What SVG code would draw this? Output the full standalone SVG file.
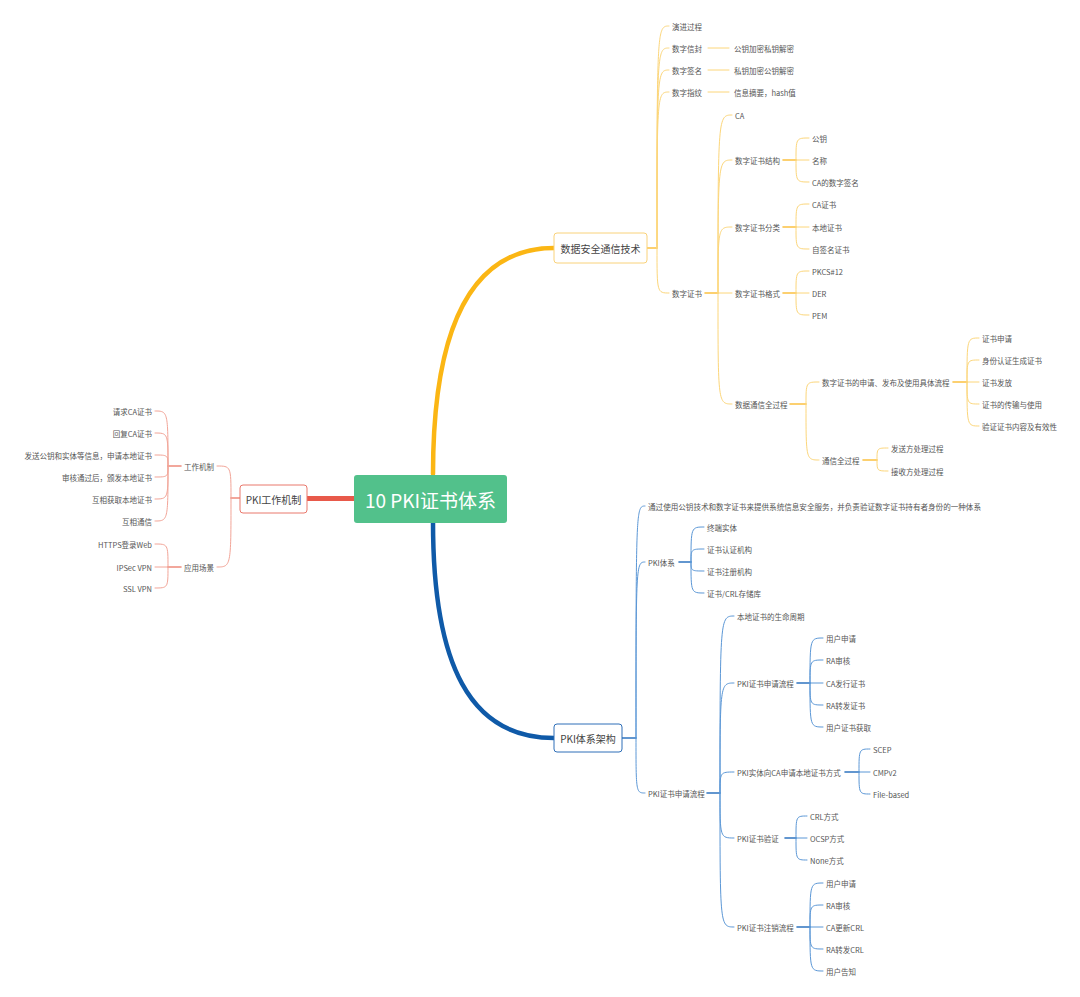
<svg xmlns="http://www.w3.org/2000/svg" width="1080" height="997" viewBox="0 0 1080 997">
<style>
text{font-family:"Noto Sans CJK SC","Noto Sans",sans-serif;fill:#555;dominant-baseline:central}
.s{font-size:7.5px}
.e{text-anchor:end}
.b{font-size:10px;fill:#444}
.c{fill:none;stroke-linecap:round}
.o{stroke:#fcd67a;stroke-width:1}
.os{stroke:#fbc142;stroke-width:1.6}
.u{stroke:#5b97d6;stroke-width:1}
.us{stroke:#2f74c0;stroke-width:1.6}
.r{stroke:#f2a497;stroke-width:1}
.rs{stroke:#ee8a7c;stroke-width:1.6}
</style>
<rect width="1080" height="997" fill="#fff"/>
<g id="connectors" class="c">
<path d="M433,474 C433,330 470,248 554,248" stroke="#fbb614" stroke-width="4.5"/>
<path d="M433,522 C433,665 470,738 554,738" stroke="#0f5aa8" stroke-width="4.5"/>
<path d="M307,498.5 H354" stroke="#e8594a" stroke-width="5"/>
<path class="os" d="M647,248 H657"/>
<path class="o" d="M657,248 C657,26 657,26 669,26 M657,248 C657,48 657,48 669,48 M657,248 C657,70 657,70 669,70 M657,248 C657,92 657,92 669,92 M657,248 C657,293 657,293 669,293"/>
<path class="o" d="M708,48 H729 M708,70 H729 M708,92 H729"/>
<path class="os" d="M705,293 H718"/>
<path class="o" d="M718,293 C718,115 718,115 732,115 M718,293 C718,160 718,160 732,160 M718,293 C718,227 718,227 732,227 M718,293 H732 M718,293 C718,404 718,404 732,404"/>
<path class="os" d="M783,160 H796 M783,227 H796 M783,293 H796"/>
<path class="o" d="M796,160 C796,138 796,138 809,138 M796,160 H809 M796,160 C796,182 796,182 809,182"/>
<path class="o" d="M796,227 C796,204 796,204 809,204 M796,227 H809 M796,227 C796,249 796,249 809,249"/>
<path class="o" d="M796,293 C796,271 796,271 809,271 M796,293 H809 M796,293 C796,315 796,315 809,315"/>
<path class="os" d="M790,404 H806"/>
<path class="o" d="M806,404 C806,382 806,382 819,382 M806,404 C806,460 806,460 819,460"/>
<path class="os" d="M953,382 H967"/>
<path class="o" d="M967,382 C967,338 967,338 979,338 M967,382 C967,360 967,360 979,360 M967,382 H979 M967,382 C967,404 967,404 979,404 M967,382 C967,426 967,426 979,426"/>
<path class="os" d="M863,460 H877"/>
<path class="o" d="M877,460 C877,448 877,448 888,448 M877,460 C877,471 877,471 888,471"/>
<path class="us" d="M622,738 H636"/>
<path class="u" d="M636,738 C636,506 636,506 645,506 M636,738 C636,562 636,562 645,562 M636,738 C636,793 636,793 645,793"/>
<path class="us" d="M679,562 H691"/>
<path class="u" d="M691,562 C691,527 691,527 704,527 M691,562 C691,549 691,549 704,549 M691,562 C691,571 691,571 704,571 M691,562 C691,593 691,593 704,593"/>
<path class="us" d="M707,793 H720"/>
<path class="u" d="M720,793 C720,616 720,616 734,616 M720,793 C720,683 720,683 734,683 M720,793 C720,772 720,772 734,772 M720,793 C720,838 720,838 734,838 M720,793 C720,927 720,927 734,927"/>
<path class="us" d="M797,683 H810"/>
<path class="u" d="M810,683 C810,638 810,638 823,638 M810,683 C810,660 810,660 823,660 M810,683 H823 M810,683 C810,705 810,705 823,705 M810,683 C810,727 810,727 823,727"/>
<path class="us" d="M845,772 H859"/>
<path class="u" d="M859,772 C859,749 859,749 870,749 M859,772 H870 M859,772 C859,794 859,794 870,794"/>
<path class="us" d="M785,838 H796"/>
<path class="u" d="M796,838 C796,816 796,816 807,816 M796,838 H807 M796,838 C796,860 796,860 807,860"/>
<path class="us" d="M797,927 H810"/>
<path class="u" d="M810,927 C810,883 810,883 823,883 M810,927 C810,905 810,905 823,905 M810,927 H823 M810,927 C810,949 810,949 823,949 M810,927 C810,971 810,971 823,971"/>
<path class="rs" d="M240,498 H231"/>
<path class="r" d="M231,498 C231,466 231,466 217,466 M231,498 C231,567 231,567 217,567"/>
<path class="rs" d="M181,466 H168 M181,567 H168"/>
<path class="r" d="M168,466 C168,411 168,411 155,411 M168,466 C168,433 168,433 155,433 M168,466 C168,455 168,455 155,455 M168,466 C168,477 168,477 155,477 M168,466 C168,499 168,499 155,499 M168,466 C168,521 168,521 155,521"/>
<path class="r" d="M168,567 C168,544 168,544 155,544 M168,567 H155 M168,567 C168,588 168,588 155,588"/>
</g>
<g id="root">
<rect x="354" y="475" width="153" height="48" rx="3" fill="#52c18b"/>
<text x="430.5" y="499" text-anchor="middle" style="font-size:19px;fill:#fff">10 PKI证书体系</text>
</g>
<g id="n-data-security">
<rect x="554" y="233" width="93" height="30" rx="3" fill="#fff" stroke="#f9d27a" stroke-width="1"/>
<text class="b" x="600.5" y="248" text-anchor="middle">数据安全通信技术</text>
</g>
<g id="n-pki-arch">
<rect x="554" y="724" width="68" height="28" rx="3" fill="#fff" stroke="#2f6fb8" stroke-width="1"/>
<text class="b" x="588" y="738" text-anchor="middle">PKI体系架构</text>
</g>
<g id="n-pki-work">
<rect x="240" y="485" width="67" height="28" rx="3" fill="#fff" stroke="#e9786c" stroke-width="1"/>
<text class="b" x="273.5" y="499" text-anchor="middle">PKI工作机制</text>
</g>
<g id="n-orange">
<text class="s" x="672" y="26">演进过程</text>
<text class="s" x="672" y="48">数字信封</text>
<text class="s" x="734" y="48">公钥加密私钥解密</text>
<text class="s" x="672" y="70">数字签名</text>
<text class="s" x="734" y="70">私钥加密公钥解密</text>
<text class="s" x="672" y="92">数字指纹</text>
<text class="s" x="734" y="92">信息摘要，hash值</text>
<text class="s" x="672" y="293">数字证书</text>
<text class="s" x="735" y="115">CA</text>
<text class="s" x="735" y="160">数字证书结构</text>
<text class="s" x="812" y="138">公钥</text>
<text class="s" x="812" y="160">名称</text>
<text class="s" x="812" y="182">CA的数字签名</text>
<text class="s" x="735" y="227">数字证书分类</text>
<text class="s" x="812" y="204">CA证书</text>
<text class="s" x="812" y="227">本地证书</text>
<text class="s" x="812" y="249">自签名证书</text>
<text class="s" x="735" y="293">数字证书格式</text>
<text class="s" x="812" y="271">PKCS#12</text>
<text class="s" x="812" y="293">DER</text>
<text class="s" x="812" y="315">PEM</text>
<text class="s" x="735" y="404">数据通信全过程</text>
<text class="s" x="822" y="382">数字证书的申请、发布及使用具体流程</text>
<text class="s" x="982" y="338">证书申请</text>
<text class="s" x="982" y="360">身份认证生成证书</text>
<text class="s" x="982" y="382">证书发放</text>
<text class="s" x="982" y="404">证书的传输与使用</text>
<text class="s" x="982" y="426">验证证书内容及有效性</text>
<text class="s" x="822" y="460">通信全过程</text>
<text class="s" x="891" y="448">发送方处理过程</text>
<text class="s" x="891" y="471">接收方处理过程</text>
</g>
<g id="n-blue">
<text class="s" x="648" y="506" textLength="333" lengthAdjust="spacingAndGlyphs">通过使用公钥技术和数字证书来提供系统信息安全服务，并负责验证数字证书持有者身份的一种体系</text>
<text class="s" x="648" y="562">PKI体系</text>
<text class="s" x="707" y="527">终端实体</text>
<text class="s" x="707" y="549">证书认证机构</text>
<text class="s" x="707" y="571">证书注册机构</text>
<text class="s" x="707" y="593">证书/CRL存储库</text>
<text class="s" x="648" y="793">PKI证书申请流程</text>
<text class="s" x="737" y="616">本地证书的生命周期</text>
<text class="s" x="737" y="683">PKI证书申请流程</text>
<text class="s" x="826" y="638">用户申请</text>
<text class="s" x="826" y="660">RA审核</text>
<text class="s" x="826" y="683">CA发行证书</text>
<text class="s" x="826" y="705">RA转发证书</text>
<text class="s" x="826" y="727">用户证书获取</text>
<text class="s" x="737" y="772">PKI实体向CA申请本地证书方式</text>
<text class="s" x="873" y="749">SCEP</text>
<text class="s" x="873" y="772">CMPv2</text>
<text class="s" x="873" y="794">File-based</text>
<text class="s" x="737" y="838">PKI证书验证</text>
<text class="s" x="810" y="816">CRL方式</text>
<text class="s" x="810" y="838">OCSP方式</text>
<text class="s" x="810" y="860">None方式</text>
<text class="s" x="737" y="927">PKI证书注销流程</text>
<text class="s" x="826" y="883">用户申请</text>
<text class="s" x="826" y="905">RA审核</text>
<text class="s" x="826" y="927">CA更新CRL</text>
<text class="s" x="826" y="949">RA转发CRL</text>
<text class="s" x="826" y="971">用户告知</text>
</g>
<g id="n-red">
<text class="s e" x="214" y="466">工作机制</text>
<text class="s e" x="152" y="411">请求CA证书</text>
<text class="s e" x="152" y="433">回复CA证书</text>
<text class="s e" x="152" y="455">发送公钥和实体等信息，申请本地证书</text>
<text class="s e" x="152" y="477">审核通过后，颁发本地证书</text>
<text class="s e" x="152" y="499">互相获取本地证书</text>
<text class="s e" x="152" y="521">互相通信</text>
<text class="s e" x="214" y="567">应用场景</text>
<text class="s e" x="152" y="544">HTTPS登录Web</text>
<text class="s e" x="152" y="567">IPSec VPN</text>
<text class="s e" x="152" y="588">SSL VPN</text>
</g>
</svg>
